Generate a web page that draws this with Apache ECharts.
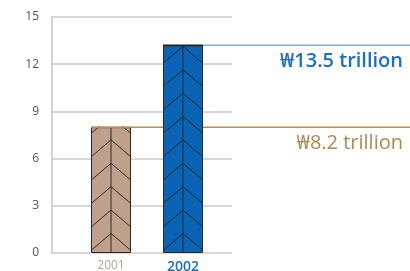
<!DOCTYPE html>
<html>
<head>
<meta charset="utf-8">
<script src="https://cdn.jsdelivr.net/npm/echarts@6/dist/echarts.min.js"></script>
<style>
  html, body { margin: 0; padding: 0; background: #fff; }
  #chart { width: 410px; height: 271px; }
</style>
</head>
<body>
<div id="chart"></div>
<script>
// data
const years = ['2001', '2002'];
const values = [8.0, 13.2];
const valueLabels = ['\u20A98.2 trillion', '\u20A913.5 trillion'];
const barColors = ['#bfa18b', '#0a63b3'];
const guideColors = ['#b8924a', '#7db3dc'];
const textColors = ['#a98b55', '#1f6fbf'];

const BAR_W = 40;
const FONT = '"Open Sans", "Noto Sans", sans-serif';

const chart = echarts.init(document.getElementById('chart'));

// reference line + right side label for each bar
function renderGuide(params, api) {
  const i = params.dataIndex;
  const top = api.coord([api.value(0), api.value(1)]);
  const x0 = top[0] - BAR_W / 2;
  const w = api.getWidth();
  return {
    type: 'group',
    children: [
      {
        type: 'line',
        shape: { x1: x0, y1: top[1], x2: w, y2: top[1] },
        style: { stroke: guideColors[i], lineWidth: 1.5 }
      },
      {
        type: 'text',
        x: w - 7,
        y: top[1] + 6,
        style: {
          text: valueLabels[i],
          fill: textColors[i],
          font: (i === 1 ? '600 ' : '') + '20px ' + FONT,
          align: 'right',
          verticalAlign: 'top'
        }
      }
    ]
  };
}

// chevron hatching over each bar
function renderChevron(params, api) {
  const i = params.dataIndex;
  const top = api.coord([api.value(0), api.value(1)]);
  const bot = api.coord([api.value(0), 0]);
  const cx = top[0];
  const hw = BAR_W / 2;
  const children = [
    {
      type: 'line',
      shape: { x1: cx, y1: top[1], x2: cx, y2: bot[1] },
      style: { stroke: '#2a2a2a', lineWidth: 1 }
    }
  ];
  for (let y = bot[1] - 19.5; y > top[1] - 18; y -= 23.4) {
    children.push({
      type: 'polyline',
      shape: { points: [[cx - hw, y + 17], [cx, y], [cx + hw, y + 17]] },
      style: { stroke: '#2a2a2a', lineWidth: 1, fill: null }
    });
  }
  children.push({
    type: 'line',
    shape: { x1: cx - hw, y1: top[1], x2: cx + hw, y2: top[1] },
    style: { stroke: i === 0 ? guideColors[i] : '#222', lineWidth: 1.5 }
  });
  return {
    type: 'group',
    clipPath: {
      type: 'rect',
      shape: { x: cx - hw, y: top[1] - 1, width: BAR_W, height: bot[1] - top[1] + 1 }
    },
    children: children
  };
}

chart.setOption({
  animation: false,
  backgroundColor: '#fff',
  grid: [
    { left: 52, top: 17, width: 180, height: 236, outerBoundsMode: 'none' },
    { left: 75, top: 17, width: 144, height: 236, outerBoundsMode: 'none' }
  ],
  xAxis: [
    { gridIndex: 0, type: 'category', data: years, show: false },
    {
      gridIndex: 1,
      type: 'category',
      data: years.map((y, i) => ({
        value: y,
        textStyle: {
          color: i === 0 ? '#c0a28c' : '#1a6dc0',
          fontSize: i === 0 ? 12 : 14,
          fontWeight: i === 0 ? 'normal' : 600
        }
      })),
      axisLine: { show: false },
      axisTick: { show: false },
      axisLabel: { margin: 7, fontFamily: FONT }
    }
  ],
  yAxis: [
    {
      gridIndex: 0,
      type: 'value',
      min: 0,
      max: 15,
      interval: 3,
      axisLine: { show: true, lineStyle: { color: '#c4c4c4', width: 1.5 } },
      axisTick: { show: false },
      axisLabel: { color: '#555', fontSize: 12, margin: 13, fontFamily: FONT },
      splitLine: { lineStyle: { color: '#cacaca', width: 1.5 } }
    },
    { gridIndex: 1, type: 'value', min: 0, max: 15, show: false }
  ],
  series: [
    {
      type: 'custom',
      xAxisIndex: 1,
      yAxisIndex: 1,
      z: 1,
      clip: false,
      silent: true,
      data: values.map((v, i) => [i, v]),
      renderItem: renderGuide
    },
    {
      type: 'bar',
      xAxisIndex: 1,
      yAxisIndex: 1,
      z: 2,
      barWidth: BAR_W,
      data: values.map((v, i) => ({
        value: v,
        itemStyle: { color: barColors[i], borderColor: '#2a2a2a', borderWidth: 1 }
      }))
    },
    {
      type: 'custom',
      xAxisIndex: 1,
      yAxisIndex: 1,
      z: 3,
      clip: false,
      silent: true,
      data: values.map((v, i) => [i, v]),
      renderItem: renderChevron
    }
  ]
});
</script>
</body>
</html>
